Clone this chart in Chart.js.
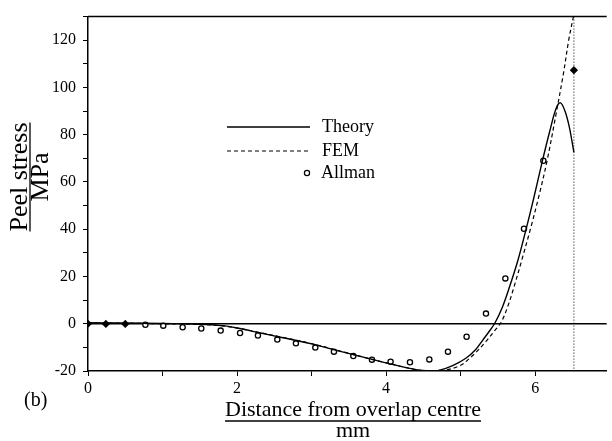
<!DOCTYPE html>
<html lang="en">
<head>
    <meta charset="UTF-8">
    <title>Peel stress</title>
    <script src="https://cdn.jsdelivr.net/npm/chart.js"></script>
    <style>
        body { margin: 0; background: #fff; }
        #wrap { width: 612px; height: 441px; }
    </style>
</head>
<body>
    <div id="wrap"><canvas id="peelChart" width="612" height="441"></canvas></div>

    <script>
        // theory curve
        const theoryX = [0, 0.5, 1.0, 1.5, 1.8, 2.0, 2.3, 2.6, 3.0, 3.4, 3.8, 4.1, 4.4, 4.55, 4.7, 4.9, 5.07, 5.2, 5.3, 5.38, 5.46, 5.56, 5.66, 5.77, 5.87, 5.98, 6.09, 6.2, 6.28, 6.34, 6.4, 6.46, 6.52];
        const theoryY = [0.4, 0.3, 0.1, -0.2, -0.8, -1.8, -3.8, -5.8, -8.5, -11.8, -15, -17.3, -19.4, -19.9, -19.8, -17.6, -14.6, -11, -6.8, -3.4, 0.3, 7, 16, 27, 39, 53, 68, 82, 91, 93.5, 90, 83, 72.5];

        // FEM curve
        const femX = [0, 0.5, 1.0, 1.5, 1.8, 2.0, 2.3, 2.6, 3.0, 3.4, 3.8, 4.1, 4.4, 4.6, 4.8, 5.0, 5.1, 5.2, 5.34, 5.45, 5.55, 5.64, 5.72, 5.83, 5.94, 6.05, 6.16, 6.27, 6.38, 6.45, 6.52];
        const femY = [0.3, 0.2, 0, -0.3, -0.9, -1.8, -3.7, -5.7, -8.4, -11.7, -15, -17.3, -19.4, -20, -19.6, -17.6, -15.2, -12.3, -7.5, -3.2, 1, 8, 16, 28, 40.5, 54, 69, 87, 106, 120, 131];

        // Allman points
        const allmanX = [0, 0.24, 0.5, 0.77, 1.01, 1.27, 1.52, 1.78, 2.04, 2.28, 2.54, 2.79, 3.05, 3.3, 3.56, 3.81, 4.06, 4.32, 4.58, 4.83, 5.08, 5.34, 5.6, 5.85, 6.11, 6.52];
        const allmanY = [0, -0.1, -0.1, -0.4, -0.8, -1.5, -2.0, -2.9, -3.9, -5.0, -6.7, -8.3, -10.1, -11.8, -13.7, -15.2, -16.1, -16.3, -15.1, -11.8, -5.5, 4.3, 19.2, 40.2, 69, 107.3];

        const overlapEnd = 6.52;
        const seriesNames = ['Theory', 'FEM', 'Allman'];

        const serif = '"Liberation Serif", "DejaVu Serif", serif';

        function pairs(xs, ys) {
            return xs.map((x, i) => ({ x: x, y: ys[i] }));
        }

        const lastAllman = allmanX.length - 1;
        const isFilled = (ctx) => ctx.dataIndex < 3 || ctx.dataIndex === lastAllman;

        // extra lines, frame, legend and fraction-style axis titles
        const decorations = {
            id: 'decorations',
            beforeDatasetsDraw(chart) {
                const { ctx, chartArea: a, scales } = chart;
                ctx.save();
                ctx.strokeStyle = '#000';
                // zero line
                const y0 = scales.y.getPixelForValue(0);
                ctx.lineWidth = 1.5;
                ctx.beginPath();
                ctx.moveTo(a.left, y0);
                ctx.lineTo(a.right, y0);
                ctx.stroke();
                // top frame
                ctx.beginPath();
                ctx.moveTo(a.left, a.top);
                ctx.lineTo(a.right, a.top);
                ctx.stroke();
                // overlap end, dotted
                const xe = scales.x.getPixelForValue(overlapEnd);
                ctx.lineWidth = 1;
                ctx.setLineDash([1, 2]);
                ctx.beginPath();
                ctx.moveTo(xe, a.top);
                ctx.lineTo(xe, a.bottom);
                ctx.stroke();
                ctx.restore();
            },
            afterDraw(chart) {
                const { ctx } = chart;
                ctx.save();
                ctx.fillStyle = '#000';
                ctx.strokeStyle = '#000';

                // legend
                ctx.font = '18px ' + serif;
                ctx.textBaseline = 'middle';
                ctx.textAlign = 'left';
                ctx.lineWidth = 1.3;
                ctx.beginPath();
                ctx.moveTo(227, 127);
                ctx.lineTo(310, 127);
                ctx.stroke();
                ctx.setLineDash([4, 3]);
                ctx.lineWidth = 1.2;
                ctx.beginPath();
                ctx.moveTo(227, 151);
                ctx.lineTo(310, 151);
                ctx.stroke();
                ctx.setLineDash([]);
                ctx.beginPath();
                ctx.arc(307, 173, 2.6, 0, Math.PI * 2);
                ctx.stroke();
                ctx.fillText(seriesNames[0], 322, 127);
                ctx.fillText(seriesNames[1], 322, 151);
                ctx.fillText(seriesNames[2], 321, 173);

                // x title
                ctx.textAlign = 'center';
                ctx.textBaseline = 'alphabetic';
                ctx.font = '22px ' + serif;
                const xt = 'Distance from overlap centre';
                const xw = ctx.measureText(xt).width;
                ctx.fillText(xt, 353, 416);
                ctx.lineWidth = 1.3;
                ctx.beginPath();
                ctx.moveTo(353 - xw / 2, 421);
                ctx.lineTo(353 + xw / 2, 421);
                ctx.stroke();
                ctx.fillText('mm', 353, 437);

                // y title
                ctx.save();
                ctx.translate(27, 177);
                ctx.rotate(-Math.PI / 2);
                ctx.font = '26px ' + serif;
                const yt = 'Peel stress';
                const yw = ctx.measureText(yt).width;
                ctx.fillText(yt, 0, 0);
                ctx.beginPath();
                ctx.moveTo(-yw / 2, 3);
                ctx.lineTo(yw / 2, 3);
                ctx.stroke();
                ctx.fillText('MPa', 0, 21);
                ctx.restore();

                // panel label
                ctx.textAlign = 'left';
                ctx.font = '20px ' + serif;
                ctx.fillText('(b)', 24, 406);
                ctx.restore();
            }
        };

        const ctx = document.getElementById('peelChart').getContext('2d');

        new Chart(ctx, {
            type: 'line',
            data: {
                datasets: [{
                    label: seriesNames[0],
                    data: pairs(theoryX, theoryY),
                    borderColor: '#000',
                    borderWidth: 1.4,
                    pointRadius: 0,
                    tension: 0.35,
                    fill: false
                }, {
                    label: seriesNames[1],
                    data: pairs(femX, femY),
                    borderColor: '#000',
                    borderWidth: 1.2,
                    borderDash: [4, 3],
                    pointRadius: 0,
                    tension: 0.35,
                    fill: false
                }, {
                    label: seriesNames[2],
                    data: pairs(allmanX, allmanY),
                    showLine: false,
                    borderColor: '#000',
                    pointBorderColor: '#000',
                    pointBorderWidth: 1.3,
                    pointStyle: (c) => isFilled(c) ? 'rectRot' : 'circle',
                    pointRadius: (c) => isFilled(c) ? 3.2 : 2.6,
                    pointBackgroundColor: (c) => isFilled(c) ? '#000' : '#fff'
                }]
            },
            options: {
                responsive: false,
                animation: false,
                events: [],
                layout: { padding: { left: 0, top: 9, right: 0, bottom: 0 } },
                plugins: {
                    legend: { display: false },
                    tooltip: { enabled: false }
                },
                scales: {
                    x: {
                        type: 'linear',
                        min: 0,
                        max: 6.96,
                        afterFit: (s) => { s.height = 70; },
                        border: { display: true, color: '#000', width: 1.5 },
                        grid: { display: true, drawOnChartArea: false, drawTicks: true, tickLength: 5, color: '#000', lineWidth: 1 },
                        ticks: {
                            stepSize: 1,
                            includeBounds: false,
                            autoSkip: false,
                            maxRotation: 0,
                            padding: 3,
                            color: '#000',
                            font: { family: serif, size: 16 },
                            callback: (v) => (v % 2 === 0 ? String(v) : '')
                        }
                    },
                    y: {
                        min: -20,
                        max: 130,
                        afterFit: (s) => { s.width = 88; },
                        border: { display: true, color: '#000', width: 1.5 },
                        grid: { display: true, drawOnChartArea: false, drawTicks: true, tickLength: 5, color: '#000', lineWidth: 1 },
                        ticks: {
                            stepSize: 10,
                            includeBounds: false,
                            autoSkip: false,
                            padding: 7,
                            color: '#000',
                            font: { family: serif, size: 16 },
                            callback: (v) => (v % 20 === 0 ? String(v) : '')
                        }
                    }
                }
            },
            plugins: [decorations]
        });
    </script>
</body>
</html>
